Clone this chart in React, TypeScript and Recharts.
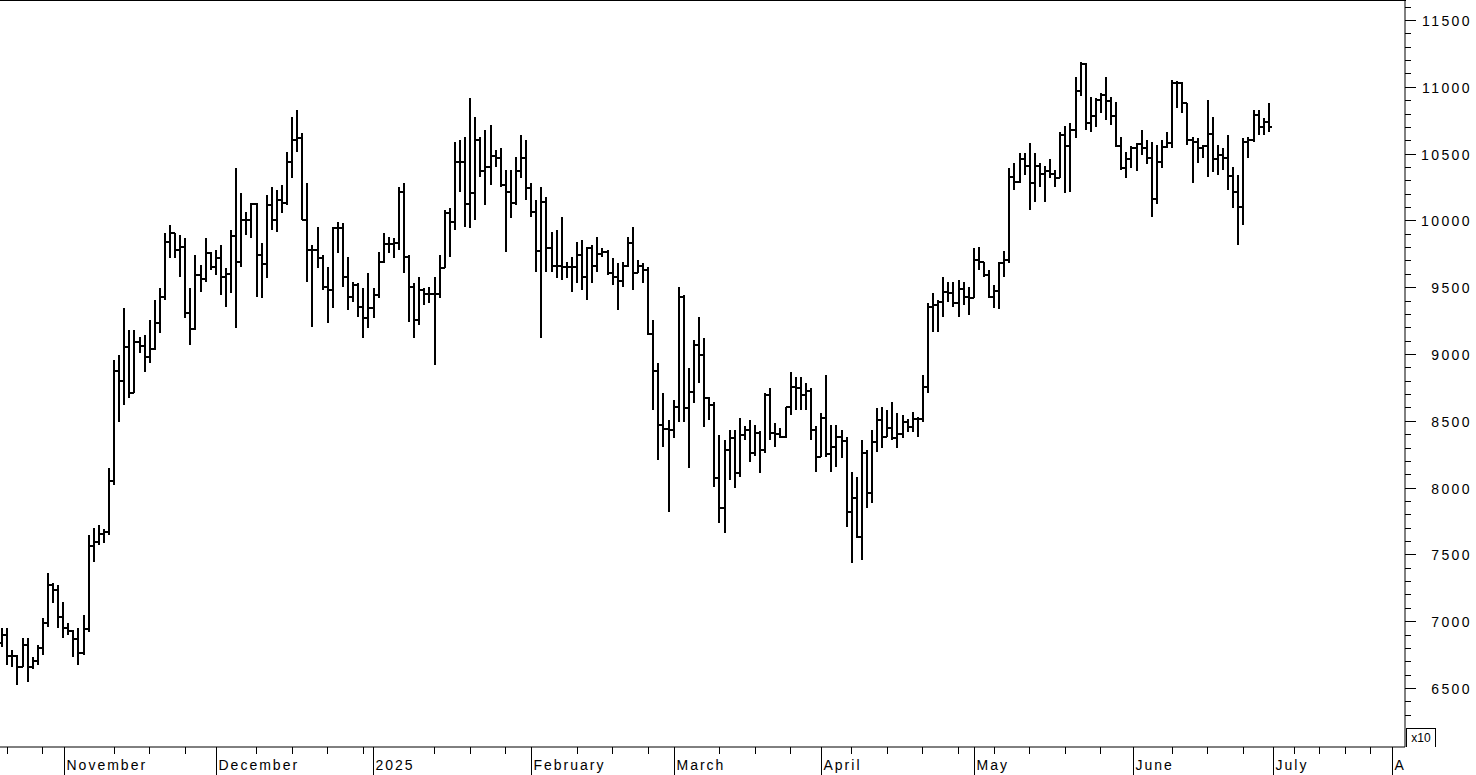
import React from 'react';
import { ComposedChart, Bar, XAxis, YAxis } from 'recharts';

// daily bars, Oct 20 2024 -> Jun 28 2025, prices shown /10 (axis says x10)
const opens = [
  6840, 6900, 6740, 6740, 6660, 6820, 6660, 6700, 6800, 6990, 7270, 7230,
  7030, 6950, 6930, 6870, 6760, 6940, 7560, 7590, 7650, 7670, 8050, 8870, 8800, 9050, 8710, 9090, 9060, 8980,
  9040, 9230, 9429, 9841, 9903, 9778, 9803, 9304, 9190, 9591, 9560, 9753,
  9650, 9720, 9580, 9600, 9880, 9690, 10003, 10000, 10120, 9741, 9670, 10115, 10000, 10153, 10128, 10440,
  10602, 10614, 10003, 9778, 9778, 9716, 9504, 9479, 9940, 9940, 9579, 9429, 9517, 9354, 9267,
  9342, 9441, 9690, 9823, 9820, 9830, 10215, 9728, 9504, 9255, 9479, 9450, 9450, 9450, 9641, 10053,
  9991, 10440, 10440, 10120, 10203, 10600, 10370, 10400, 10480, 10470, 10265, 10210, 10130, 10370, 10470,
  10240, 10060, 9770, 10140, 9790, 9660, 9660, 9650, 9650, 9650, 9740, 9580, 9790, 9660, 9750, 9760,
  9610, 9580, 9550, 9660, 9830, 9610, 9660, 9630, 9150, 8870, 8470, 8440,
  8431, 8600, 9430, 8594, 8718, 9067, 8990, 8668, 8620, 8069, 7850, 8280, 8370, 8107, 8390, 8430,
  8257, 8410, 8282, 8690, 8406, 8400, 8380, 8600, 8750, 8743, 8690, 8720, 8431,
  8232, 8519, 8250, 8306, 8380, 8350, 7820, 7920, 7630, 8260, 7957, 8344, 8506, 8381, 8444, 8369,
  8400, 8490, 8450, 8510, 8510, 8755, 9354, 9367, 9392, 9466, 9460, 9380, 9490, 9430,
  9420, 9700, 9690, 9590, 9430, 9470, 9680, 9700, 10327, 10290, 10460, 10410, 10280, 10410, 10350, 10370,
  10350, 10320, 10640, 10560, 10680, 10970, 11170, 10730, 10780, 10900, 10940, 10890, 10780, 10560, 10390,
  10460, 10540, 10570, 10540, 10470, 10160, 10440, 10552, 10577, 11030, 11030, 10876, 10602, 10590,
  10540, 10560, 10650, 10460, 10490, 10470, 10330, 10210, 10100, 10590, 10600, 10790, 10700, 10740,
];

const highs = [
  6946, 6946, 6784, 6747, 6872, 6872, 6734, 6822, 7021, 7358, 7283, 7271,
  7146, 6990, 6934, 6946, 7046, 7645, 7695, 7720, 7690, 8144, 8955, 8992, 9342, 9180, 9180, 9130, 9142, 9254,
  9404, 9491, 9903, 9966, 9903, 9891, 9866, 9491, 9741, 9666, 9866, 9760,
  9778, 9816, 9641, 9928, 10390, 10203, 10065, 10128, 10128, 9828, 10190, 10253, 10228, 10265, 10514, 10776,
  10826, 10652, 10277, 9816, 9953, 9741, 9654, 9953, 9991, 9978, 9728, 9541, 9530, 9491, 9604,
  9491, 9766, 9903, 9878, 9866, 10253, 10277, 9740, 9529, 9579, 9491, 9504, 9579, 9741, 10078,
  10090, 10589, 10600, 10627, 10914, 10777, 10627, 10677, 10714, 10527, 10540, 10377, 10377, 10477, 10639,
  10602, 10278, 10153, 10253, 10178, 9916, 9928, 10028, 9691, 9728, 9841, 9853, 9803, 9816, 9878, 9791,
  9778, 9716, 9679, 9691, 9878, 9953, 9703, 9679, 9654, 9254, 8930, 8706,
  8506, 8656, 9504, 9442, 8893, 9105, 9280, 9117, 8681, 8644, 8394, 8356, 8431, 8431, 8519, 8460,
  8506, 8469, 8420, 8706, 8743, 8481, 8444, 8606, 8868, 8831, 8831, 8781, 8743,
  8460, 8556, 8843, 8469, 8469, 8431, 8381, 8119, 8082, 8356, 8281, 8431, 8593, 8606, 8581, 8643,
  8556, 8543, 8510, 8569, 8531, 8843, 9379, 9454, 9404, 9579, 9541, 9541, 9554, 9541,
  9504, 9791, 9803, 9690, 9629, 9516, 9691, 9770, 10390, 10430, 10502, 10502, 10580, 10502, 10427, 10410,
  10460, 10377, 10664, 10710, 10730, 11076, 11188, 11175, 10926, 10914, 10951, 11076, 10926, 10889, 10627,
  10514, 10560, 10580, 10677, 10600, 10589, 10564, 10602, 10664, 11050, 11040, 11038, 10876, 10627,
  10614, 10564, 10901, 10776, 10564, 10539, 10639, 10402, 10339, 10620, 10627, 10826, 10826, 10764, 10876,
];

const lows = [
  6809, 6672, 6660, 6522, 6660, 6547, 6640, 6672, 6747, 6959, 7134, 6946,
  6872, 6896, 6734, 6672, 6747, 6921, 7446, 7570, 7583, 7645, 8019, 8493, 8618, 8668, 8705, 9005, 8868, 8930,
  9030, 9155, 9404, 9716, 9716, 9579, 9267, 9068, 9180, 9467, 9540, 9629,
  9591, 9442, 9354, 9454, 9192, 9654, 9890, 9866, 9429, 9417, 9566, 9928, 9916, 10053, 10115, 10315,
  10514, 10003, 9541, 9205, 9641, 9479, 9230, 9342, 9753, 9504, 9329, 9392, 9280, 9117, 9192,
  9267, 9420, 9680, 9753, 9716, 9778, 9604, 9242, 9117, 9217, 9367, 9379, 8920, 9417, 9641,
  9728, 9928, 10215, 9953, 9940, 10003, 10328, 10115, 10265, 10402, 10252, 9766, 10015, 10115, 10315,
  10153, 10028, 9616, 9117, 9616, 9616, 9566, 9554, 9566, 9466, 9529, 9479, 9404, 9529, 9616, 9728,
  9591, 9516, 9329, 9504, 9654, 9479, 9604, 9529, 9142, 8581, 8207, 8307,
  7820, 8369, 8494, 8494, 8144, 8631, 8780, 8456, 8506, 8007, 7733, 7658, 8057, 7995, 8082, 8356,
  8194, 8240, 8107, 8257, 8356, 8306, 8369, 8369, 8544, 8581, 8581, 8581, 8356,
  8119, 8232, 8232, 8119, 8157, 8219, 7708, 7433, 7620, 7458, 7845, 7882, 8269, 8294, 8381, 8356,
  8294, 8369, 8419, 8419, 8381, 8494, 8706, 9167, 9167, 9280, 9392, 9354, 9280, 9367,
  9292, 9417, 9629, 9580, 9417, 9342, 9340, 9579, 9679, 10227, 10277, 10340, 10078, 10140, 10252, 10140,
  10315, 10252, 10315, 10203, 10210, 10614, 10930, 10676, 10664, 10702, 10801, 10752, 10714, 10552, 10377,
  10315, 10390, 10370, 10490, 10420, 10028, 10120, 10390, 10539, 10539, 10840, 10801, 10564, 10277,
  10427, 10465, 10327, 10365, 10340, 10377, 10228, 10090, 9816, 9966, 10465, 10589, 10639, 10639, 10664,
];

const closes = [
  6900, 6740, 6740, 6660, 6820, 6660, 6700, 6800, 6990, 7270, 7230, 7030,
  6950, 6930, 6870, 6760, 6940, 7560, 7590, 7650, 7670, 8050, 8870, 8800, 9050, 8710, 9090, 9060, 8980, 9040,
  9230, 9429, 9841, 9903, 9778, 9803, 9304, 9190, 9591, 9560, 9753, 9650,
  9720, 9580, 9600, 9880, 9690, 10003, 10000, 10120, 9741, 9670, 10115, 10000, 10153, 10128, 10440, 10602,
  10614, 10003, 9778, 9778, 9716, 9504, 9479, 9940, 9940, 9579, 9429, 9517, 9354, 9267, 9342,
  9441, 9690, 9823, 9820, 9830, 10215, 9728, 9504, 9255, 9479, 9450, 9450, 9450, 9641, 10053,
  9991, 10440, 10440, 10120, 10203, 10600, 10370, 10400, 10480, 10470, 10265, 10210, 10130, 10370, 10470,
  10240, 10060, 9770, 10140, 9790, 9660, 9660, 9650, 9650, 9650, 9740, 9580, 9790, 9660, 9750, 9760,
  9610, 9580, 9550, 9660, 9830, 9610, 9660, 9630, 9150, 8870, 8470, 8440, 8431,
  8600, 9430, 8594, 8718, 9067, 8990, 8668, 8620, 8069, 7850, 8280, 8370, 8107, 8390, 8430, 8257,
  8410, 8282, 8690, 8406, 8400, 8380, 8600, 8750, 8743, 8690, 8720, 8431, 8232,
  8519, 8250, 8306, 8380, 8350, 7820, 7920, 7630, 8260, 7957, 8344, 8506, 8381, 8444, 8369, 8400,
  8490, 8450, 8510, 8510, 8755, 9354, 9367, 9392, 9466, 9460, 9380, 9490, 9430, 9420,
  9700, 9690, 9590, 9430, 9470, 9680, 9700, 10327, 10290, 10460, 10410, 10280, 10410, 10350, 10370, 10350,
  10320, 10640, 10560, 10680, 10970, 11170, 10730, 10780, 10900, 10940, 10890, 10780, 10560, 10390, 10460,
  10540, 10570, 10540, 10470, 10160, 10440, 10552, 10577, 11030, 11030, 10876, 10602, 10590, 10540,
  10560, 10650, 10460, 10490, 10470, 10330, 10210, 10100, 10590, 10600, 10790, 10700, 10740, 10702,
];

// x axis: bar index positions of month starts and weekly (Monday) ticks
const monthTicks = [12.2, 42.1, 72.9, 104, 132.1, 161, 191.2, 222.3, 249.9, 273.3];
const monthLabels = ['November', 'December', '2025', 'February', 'March', 'April', 'May', 'June', 'July', 'August'];
const weekTicks = [
  1, 8, 22, 29, 36, 50, 57, 64, 71, 85, 92, 99, 113, 120, 127, 141, 148, 155,
  167, 174, 181, 188, 195, 202, 209, 216, 230, 237, 244, 254, 259, 264, 269,
];

const priceLabels = [6500, 7000, 7500, 8000, 8500, 9000, 9500, 10000, 10500, 11000, 11500];
const priceTicks = [
  6300, 6400, 6500, 6600, 6700, 6800, 6900, 7000, 7100, 7200, 7300, 7400, 7500, 7600, 7700, 7800,
  7900, 8000, 8100, 8200, 8300, 8400, 8500, 8600, 8700, 8800, 8900, 9000, 9100, 9200, 9300, 9400,
  9500, 9600, 9700, 9800, 9900, 10000, 10100, 10200, 10300, 10400, 10500, 10600, 10700, 10800,
  10900, 11000, 11100, 11200, 11300, 11400, 11500, 11600,
];

const rows = opens.map((o, i) => ({
  i,
  open: o,
  high: highs[i],
  low: lows[i],
  close: closes[i],
  range: [lows[i], highs[i]],
}));

const xTicks = [...monthTicks, ...weekTicks].sort((a, b) => a - b);
const FONT = '"Liberation Sans", Arial, sans-serif';

const OhlcBar = (props: any) => {
  const { x, y, width, height, payload } = props;
  if (x == null || y == null || !payload) return null;
  const cx = Math.round(x + width / 2);
  const top = Math.min(y, y + height);
  const bot = Math.max(y, y + height);
  const span = payload.high - payload.low;
  const toY = (v: number) => (span > 0 ? top + ((payload.high - v) / span) * (bot - top) : top);
  const yo = Math.round(toY(payload.open));
  const yc = Math.round(toY(payload.close));
  return (
    <g stroke="#000" strokeWidth={2} shapeRendering="crispEdges">
      <line x1={cx} x2={cx} y1={Math.round(top)} y2={Math.max(Math.round(bot), Math.round(top) + 1)} />
      <line x1={cx - 3} x2={cx} y1={yo} y2={yo} />
      <line x1={cx} x2={cx + 3} y1={yc} y2={yc} />
    </g>
  );
};

const XTick = (props: any) => {
  const { x, y, payload } = props;
  const v = payload.value;
  const px = Math.round(x) + 0.5;
  const mi = monthTicks.indexOf(v);
  if (mi >= 0) {
    return (
      <g>
        <defs>
          <clipPath id={`mclip${mi}`}>
            <rect x={0} y={y} width={1405} height={30} />
          </clipPath>
        </defs>
        <line x1={px} x2={px} y1={y} y2={y + 28} stroke="#000" shapeRendering="crispEdges" />
        <text
          x={px + 2}
          y={y + 23}
          fontFamily={FONT}
          fontSize={14}
          letterSpacing={2}
          fill="#000"
          clipPath={`url(#mclip${mi})`}
        >
          {monthLabels[mi]}
        </text>
      </g>
    );
  }
  return <line x1={px} x2={px} y1={y} y2={y + 7} stroke="#000" shapeRendering="crispEdges" />;
};

const YTick = (props: any) => {
  const { x, y, payload } = props;
  const v = payload.value;
  const py = Math.round(y) + 0.5;
  const major = priceLabels.includes(v);
  return (
    <g>
      <line x1={x} x2={x + (major ? 11 : 6)} y1={py} y2={py} stroke="#000" shapeRendering="crispEdges" />
      {major && (
        <text
          x={x + 67}
          y={py + 5}
          textAnchor="end"
          fontFamily={FONT}
          fontSize={14}
          letterSpacing={2.4}
          fill="#000"
        >
          {v}
        </text>
      )}
    </g>
  );
};

export default function App() {
  return (
    <div style={{ position: 'absolute', left: 0, top: 0, width: 1476, height: 775, background: '#fff' }}>
      <ComposedChart width={1476} height={775} data={rows} margin={{ top: 0, right: 0, bottom: 0, left: 0 }}>
        <XAxis
          dataKey="i"
          type="number"
          domain={[-0.334, 275.86]}
          allowDataOverflow
          ticks={xTicks}
          interval={0}
          height={28}
          tickSize={0}
          tickMargin={0}
          tick={<XTick />}
          axisLine={{ stroke: '#000' }}
          tickLine={false}
        />
        <YAxis
          orientation="right"
          type="number"
          domain={[6058.4, 11649.7]}
          allowDataOverflow
          ticks={priceTicks}
          interval={0}
          width={71}
          tickSize={0}
          tickMargin={0}
          tick={<YTick />}
          axisLine={{ stroke: '#000' }}
          tickLine={false}
        />
        <Bar dataKey="range" barSize={4} isAnimationActive={false} shape={<OhlcBar />} />
      </ComposedChart>
      <div style={{ position: 'absolute', left: 0, top: 0, width: 1406, height: 1, background: '#000' }} />
      <div
        style={{
          position: 'absolute',
          left: 1406,
          top: 728,
          width: 28,
          height: 18,
          borderLeft: '1px solid #000',
          borderRight: '1px solid #000',
          borderTop: '1px solid #000',
          background: '#fff',
          fontFamily: FONT,
          fontSize: 12,
          lineHeight: '18px',
          textAlign: 'center',
          color: '#000',
        }}
      >
        x10
      </div>
    </div>
  );
}
